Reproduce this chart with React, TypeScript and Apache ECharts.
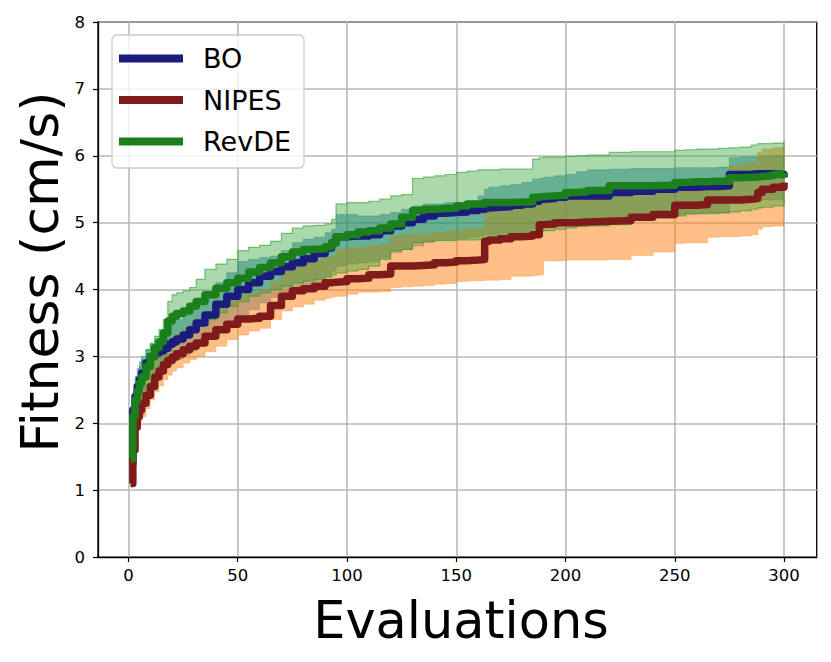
import React, { useEffect, useRef } from "react";
import * as echarts from "echarts";

// Evaluation numbers at which values were read
const EVALS = [1, 2, 3, 4, 5, 6, 8, 10, 12, 14, 16, 18, 20, 22, 25, 28, 31, 35, 40, 45, 50, 55, 60, 65, 70, 75, 80, 85, 90, 93, 95, 100, 105, 110, 115, 120, 125, 130, 135, 140, 145, 150, 155, 160, 163, 165, 170, 175, 180, 185, 188, 190, 195, 200, 205, 210, 220, 230, 240, 250, 255, 260, 265, 270, 275, 280, 285, 288, 290, 295, 300];

const BO_MEAN = [1.4, 2.2, 2.4, 2.55, 2.65, 2.75, 2.9, 3.0, 3.05, 3.08, 3.12, 3.18, 3.22, 3.26, 3.32, 3.4, 3.5, 3.62, 3.78, 3.9, 4.0, 4.1, 4.2, 4.27, 4.34, 4.4, 4.46, 4.54, 4.62, 4.7, 4.79, 4.8, 4.8, 4.82, 4.88, 4.95, 5.0, 5.05, 5.1, 5.14, 5.15, 5.16, 5.18, 5.2, 5.22, 5.23, 5.24, 5.26, 5.28, 5.32, 5.35, 5.36, 5.38, 5.4, 5.4, 5.4, 5.45, 5.47, 5.5, 5.53, 5.53, 5.54, 5.54, 5.55, 5.72, 5.72, 5.73, 5.73, 5.73, 5.72, 5.68];
const BO_LOW = [1.3, 1.95, 2.15, 2.3, 2.4, 2.5, 2.65, 2.75, 2.8, 2.83, 2.86, 2.9, 2.93, 2.96, 3.02, 3.08, 3.15, 3.25, 3.4, 3.52, 3.6, 3.7, 3.8, 3.88, 3.95, 4.0, 4.06, 4.12, 4.2, 4.28, 4.35, 4.38, 4.4, 4.42, 4.48, 4.55, 4.6, 4.65, 4.7, 4.74, 4.75, 4.76, 4.78, 4.8, 4.82, 4.82, 4.83, 4.85, 4.87, 4.9, 4.92, 4.93, 4.95, 4.98, 4.98, 4.98, 5.02, 5.05, 5.08, 5.12, 5.12, 5.13, 5.13, 5.14, 5.3, 5.32, 5.33, 5.33, 5.34, 5.34, 5.3];
const BO_HIGH = [1.5, 2.45, 2.7, 2.82, 2.92, 3.0, 3.1, 3.18, 3.25, 3.3, 3.38, 3.45, 3.5, 3.55, 3.62, 3.72, 3.82, 3.95, 4.1, 4.25, 4.42, 4.45, 4.48, 4.5, 4.58, 4.7, 4.75, 4.78, 4.85, 4.9, 5.12, 5.12, 5.1, 5.1, 5.12, 5.15, 5.2, 5.25, 5.28, 5.28, 5.3, 5.3, 5.32, 5.4, 5.5, 5.53, 5.55, 5.57, 5.6, 5.65, 5.66, 5.68, 5.7, 5.72, 5.76, 5.79, 5.8, 5.81, 5.81, 5.82, 5.82, 5.82, 5.82, 5.83, 5.97, 5.98, 5.98, 5.98, 5.99, 6.0, 6.0];

const NIPES_MEAN = [1.1, 1.6, 1.94, 2.1, 2.2, 2.3, 2.42, 2.55, 2.69, 2.78, 2.88, 2.94, 2.99, 3.04, 3.1, 3.15, 3.2, 3.3, 3.4, 3.48, 3.56, 3.57, 3.6, 3.76, 3.9, 3.98, 4.01, 4.05, 4.1, 4.11, 4.12, 4.16, 4.17, 4.22, 4.23, 4.35, 4.35, 4.36, 4.37, 4.4, 4.41, 4.43, 4.44, 4.45, 4.72, 4.74, 4.76, 4.79, 4.8, 4.82, 4.97, 4.98, 5.0, 5.0, 5.01, 5.02, 5.03, 5.08, 5.12, 5.26, 5.26, 5.27, 5.34, 5.34, 5.34, 5.35, 5.36, 5.45, 5.5, 5.53, 5.6];
const NIPES_LOW = [1.05, 1.45, 1.75, 1.92, 2.02, 2.1, 2.22, 2.35, 2.47, 2.56, 2.65, 2.72, 2.78, 2.83, 2.9, 2.95, 3.0, 3.07, 3.15, 3.25, 3.32, 3.38, 3.42, 3.55, 3.68, 3.74, 3.78, 3.84, 3.87, 3.89, 3.9, 3.93, 3.96, 3.96, 3.97, 4.03, 4.04, 4.05, 4.06, 4.08, 4.09, 4.12, 4.13, 4.13, 4.14, 4.14, 4.15, 4.2, 4.2, 4.21, 4.22, 4.43, 4.43, 4.44, 4.44, 4.44, 4.45, 4.51, 4.56, 4.69, 4.7, 4.7, 4.78, 4.79, 4.79, 4.8, 4.82, 4.9, 4.94, 4.95, 4.98];
const NIPES_HIGH = [1.2, 1.8, 2.15, 2.3, 2.42, 2.52, 2.65, 2.8, 2.95, 3.05, 3.15, 3.22, 3.28, 3.33, 3.4, 3.48, 3.55, 3.65, 3.75, 3.85, 3.92, 3.95, 4.0, 4.12, 4.28, 4.38, 4.42, 4.45, 4.48, 4.5, 4.6, 4.62, 4.63, 4.65, 4.67, 4.8, 4.82, 4.83, 4.84, 4.86, 4.88, 4.9, 4.91, 4.92, 5.22, 5.25, 5.27, 5.28, 5.28, 5.3, 5.35, 5.36, 5.37, 5.38, 5.39, 5.4, 5.41, 5.45, 5.48, 5.55, 5.56, 5.57, 5.6, 5.62, 5.85, 5.88, 5.9, 6.05, 6.1, 6.12, 6.15];

const REVDE_MEAN = [1.47, 2.1, 2.34, 2.48, 2.6, 2.69, 2.85, 3.0, 3.13, 3.22, 3.35, 3.53, 3.6, 3.64, 3.68, 3.75, 3.82, 3.92, 4.02, 4.1, 4.17, 4.26, 4.33, 4.4, 4.49, 4.56, 4.6, 4.61, 4.64, 4.7, 4.79, 4.82, 4.86, 4.88, 4.92, 4.98, 5.08, 5.18, 5.2, 5.21, 5.22, 5.25, 5.28, 5.28, 5.3, 5.3, 5.3, 5.31, 5.31, 5.38, 5.39, 5.4, 5.41, 5.45, 5.46, 5.48, 5.55, 5.55, 5.56, 5.6, 5.61, 5.61, 5.62, 5.62, 5.67, 5.68, 5.68, 5.69, 5.7, 5.72, 5.75];
const REVDE_LOW = [1.45, 1.9, 2.1, 2.25, 2.35, 2.42, 2.55, 2.65, 2.75, 2.85, 2.95, 3.08, 3.15, 3.2, 3.28, 3.38, 3.45, 3.55, 3.65, 3.75, 3.82, 3.9, 3.95, 4.0, 4.05, 4.1, 4.13, 4.15, 4.18, 4.22, 4.25, 4.28, 4.3, 4.35, 4.45, 4.58, 4.6, 4.7, 4.72, 4.73, 4.73, 4.74, 4.74, 4.75, 4.75, 4.76, 4.78, 4.78, 4.8, 4.85, 4.87, 4.88, 4.9, 4.92, 4.94, 4.95, 4.97, 5.05, 5.07, 5.1, 5.14, 5.14, 5.15, 5.15, 5.16, 5.18, 5.2, 5.22, 5.23, 5.25, 5.27];
const REVDE_HIGH = [1.5, 2.3, 2.55, 2.7, 2.85, 2.95, 3.1, 3.2, 3.3, 3.4, 3.55, 3.82, 3.92, 3.95, 3.98, 4.03, 4.15, 4.3, 4.38, 4.45, 4.58, 4.63, 4.66, 4.72, 4.84, 4.92, 4.95, 4.96, 4.98, 5.05, 5.28, 5.3, 5.3, 5.32, 5.35, 5.4, 5.42, 5.66, 5.68, 5.7, 5.72, 5.75, 5.77, 5.79, 5.79, 5.79, 5.8, 5.8, 5.8, 5.95, 5.97, 5.98, 5.98, 5.99, 6.0, 6.01, 6.05, 6.06, 6.06, 6.08, 6.09, 6.1, 6.1, 6.11, 6.12, 6.13, 6.16, 6.18, 6.18, 6.19, 6.22];

const X_TICKS = [0, 50, 100, 150, 200, 250, 300];
const SERIES_NAMES = ["BO", "NIPES", "RevDE"];

const FONT = "DejaVu Sans";
const C_BO = "#1b1b80";
const C_NIPES = "#801b1b";
const C_REVDE = "#1b801b";

function stepBand(xs: number[], lo: number[], hi: number[]) {
  const pts: number[][] = [];
  for (let i = 0; i < xs.length; i++) {
    pts.push([xs[i], hi[i]]);
    if (i < xs.length - 1) pts.push([xs[i + 1], hi[i]]);
  }
  for (let i = xs.length - 1; i >= 0; i--) {
    if (i < xs.length - 1) pts.push([xs[i + 1], lo[i]]);
    pts.push([xs[i], lo[i]]);
  }
  return pts;
}

function bandSeries(name: string, lo: number[], hi: number[], fill: string, stroke: string, strokeW: number) {
  const pts = stepBand(EVALS, lo, hi);
  return {
    type: "custom",
    name,
    silent: true,
    z: 1,
    encode: { x: 0, y: 1 },
    data: [[EVALS[0], lo[0]]],
    renderItem: (params: any, api: any) => {
      if (params.dataIndex !== 0) return null;
      const points = pts.map((p) => api.coord(p));
      return {
        type: "polygon",
        shape: { points },
        style: { fill, stroke, lineWidth: strokeW },
      };
    },
  };
}

function lineSeries(name: string, vals: number[], color: string) {
  return {
    type: "line",
    name,
    silent: true,
    z: 3,
    step: "end",
    symbol: "none",
    showSymbol: false,
    data: EVALS.map((x, i) => [x, vals[i]]),
    lineStyle: { width: 7.5, color, join: "round" },
    itemStyle: { color },
  };
}

export default function App() {
  const ref = useRef<HTMLDivElement>(null);
  useEffect(() => {
    if (!ref.current) return;
    const chart = echarts.init(ref.current, null, { renderer: "svg" });
    chart.setOption({
      animation: false,
      backgroundColor: "#ffffff",
      textStyle: { fontFamily: FONT },
      grid: {
        left: 98,
        right: 14.3,
        top: 22,
        bottom: 105,
        show: true,
        borderColor: "#000",
        borderWidth: 1.3,
        backgroundColor: "transparent",
      },
      legend: {
        data: SERIES_NAMES,
        orient: "vertical",
        left: 112,
        top: 35,
        icon: "rect",
        itemWidth: 64,
        itemHeight: 8,
        itemGap: 14.5,
        padding: [10, 13, 13, 7],
        backgroundColor: "rgba(255,255,255,0.8)",
        borderColor: "#cccccc",
        borderWidth: 1.3,
        borderRadius: 5,
        textStyle: { fontSize: 27, color: "#000", fontFamily: FONT, padding: [0, 0, 0, 15] },
        selectedMode: false,
      },
      xAxis: {
        type: "value",
        min: -13.95,
        max: 314.95,
        axisLine: { show: true, onZero: false, lineStyle: { color: "#000", width: 1.3 } },
        axisTick: { show: true, length: 5, inside: false, customValues: X_TICKS, lineStyle: { color: "#000", width: 1.2 } },
        axisLabel: { customValues: X_TICKS, fontSize: 16.5, color: "#000", fontFamily: FONT, margin: 10 },
        splitLine: { show: true, lineStyle: { color: "#b8b8b8", width: 1.6 } },
      },
      yAxis: {
        type: "value",
        min: 0,
        max: 8,
        interval: 1,
        axisLine: { show: true, onZero: false, lineStyle: { color: "#000", width: 1.3 } },
        axisTick: { show: true, length: 5, inside: false, lineStyle: { color: "#000", width: 1.2 } },
        axisLabel: { fontSize: 16.5, color: "#000", fontFamily: FONT, margin: 13 },
        splitLine: { show: true, lineStyle: { color: "#b8b8b8", width: 1.6 } },
      },
      graphic: [
        {
          type: "text",
          x: 40,
          y: 272,
          rotation: Math.PI / 2,
          style: {
            text: "Fitness (cm/s)",
            fontSize: 52,
            fontFamily: FONT,
            fill: "#000",
            align: "center",
            verticalAlign: "middle",
          },
        },
        {
          type: "text",
          x: 461,
          y: 620,
          style: {
            text: "Evaluations",
            fontSize: 51,
            fontFamily: FONT,
            fill: "#000",
            align: "center",
            verticalAlign: "middle",
          },
        },
      ],
      series: [
        bandSeries("BO band", BO_LOW, BO_HIGH, "rgba(31,119,180,0.5)", "rgba(31,119,180,0.5)", 0.8),
        bandSeries("NIPES band", NIPES_LOW, NIPES_HIGH, "rgba(255,127,14,0.5)", "rgba(255,127,14,0.4)", 0.8),
        bandSeries("RevDE band", REVDE_LOW, REVDE_HIGH, "rgba(44,160,44,0.4)", "rgba(44,160,44,0.6)", 1.2),
        lineSeries("BO", BO_MEAN, C_BO),
        lineSeries("NIPES", NIPES_MEAN, C_NIPES),
        lineSeries("RevDE", REVDE_MEAN, C_REVDE),
      ],
    });
    return () => chart.dispose();
  }, []);
  return (
    <div
      ref={ref}
      style={{ position: "fixed", left: 0, top: 0, width: 831, height: 662 }}
    />
  );
}
